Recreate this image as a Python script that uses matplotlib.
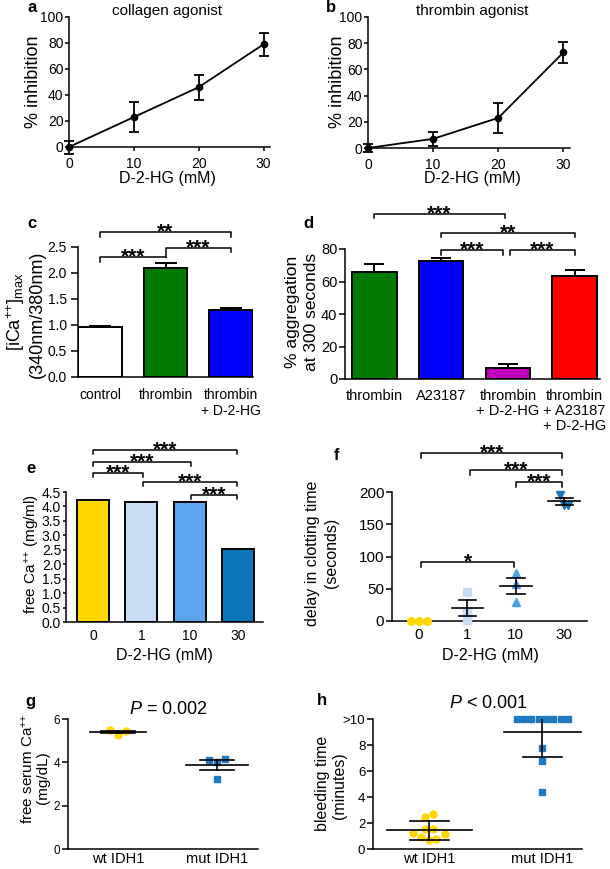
import numpy as np
import matplotlib
matplotlib.use("Agg")
import matplotlib.pyplot as plt

plt.rcParams['font.family'] = 'Liberation Sans'
plt.rcParams['mathtext.fontset'] = 'custom'
plt.rcParams['mathtext.rm'] = 'Liberation Sans'
plt.rcParams['mathtext.it'] = 'Liberation Sans:italic'
plt.rcParams['mathtext.bf'] = 'Liberation Sans:bold'

W, H = 610, 869

# a, b : % inhibition vs D-2-HG
dose = [0, 10, 20, 30]
coll_inh = [0, 23, 46, 79]
coll_err = [5, 11.5, 9.5, 9]
thr_inh = [0, 7, 23, 73]
thr_err = [3, 5.5, 11.5, 8]

# c : [iCa++]max
c_labels = ['control', 'thrombin', 'thrombin\n+ D-2-HG']
c_vals = [0.97, 2.10, 1.29]
c_err = [0.02, 0.10, 0.03]
c_colors = ['white', '#007a00', '#0000ff']

# d : % aggregation
d_labels = ['thrombin', 'A23187', 'thrombin\n+ D-2-HG', 'thrombin\n+ A23187\n+ D-2-HG']
d_vals = [66, 72.8, 6.6, 63.4]
d_err = [4.6, 1.9, 2.6, 3.6]
d_colors = ['#007a00', '#0000ff', '#c000c0', '#ff0000']

# e : free Ca++
e_labels = ['0', '1', '10', '30']
e_vals = [4.23, 4.15, 4.14, 2.52]
e_colors = ['#ffd700', '#c8dcf5', '#5ca4ee', '#0c76bd']

# f : delay in clotting time
f_labels = ['0', '1', '10', '30']
f_pts = [[0, 0, 0], [45, 14, 2], [74, 58, 30], [196, 180, 180]]
f_colors = ['#ffd700', '#c8dcf5', '#4a9fea', '#1874b9']
f_markers = ['o', 's', '^', 'v']

# g : free serum Ca++
g_labels = ['wt IDH1', 'mut IDH1']
g_wt = [5.48, 5.28, 5.43]
g_mut = [4.12, 4.15, 3.23, 4.0]

# h : bleeding time
h_labels = ['wt IDH1', 'mut IDH1']
h_wt = [1.2, 0.9, 0.69, 0.77, 1.13, 1.54, 1.54, 2.49, 2.67]
h_mut = [10, 10, 10, 10, 10, 10, 10, 10, 7.75, 6.75, 4.35]

yellow = '#ffd700'
blue = '#1f7ac4'
PP = '$^{{+}{+}}$'

fig = plt.figure(figsize=(W / 100, H / 100), dpi=100)


def px_axes(l, t, r, b):
    return fig.add_axes([l / W, 1 - b / H, (r - l) / W, (b - t) / H])


def ftext(x, y, s, **kw):
    fig.text(x / W, 1 - y / H, s, **kw)


def style(ax, fs=10, xlen=0, ylen=3, xpad=3, ypad=1.5):
    for s in ['top', 'right']:
        ax.spines[s].set_visible(False)
    for s in ['left', 'bottom']:
        ax.spines[s].set_linewidth(1.1)
    ax.tick_params(axis='y', length=ylen, width=1.1, pad=ypad, labelsize=fs)
    ax.tick_params(axis='x', length=xlen, width=1.1, pad=xpad, labelsize=fs)


def bracket(ax, x1, x2, y, text, hl, hr=None, fs=15):
    if hr is None:
        hr = hl
    ax.plot([x1, x1, x2, x2], [y - hl, y, y, y - hr], color='k', lw=1.1, clip_on=False)
    ax.annotate(text, xy=((x1 + x2) / 2, y), xytext=(0, -4), textcoords='offset points',
                ha='center', va='baseline', fontsize=fs, fontweight='bold',
                annotation_clip=False)


def mean_err(ax, x, m, e, wm, wc, lw=1.2):
    kw = dict(color='k', lw=lw, zorder=5)
    ax.plot([x - wm, x + wm], [m, m], **kw)
    ax.plot([x, x], [m - e, m + e], **kw)
    ax.plot([x - wc, x + wc], [m + e, m + e], **kw)
    ax.plot([x - wc, x + wc], [m - e, m - e], **kw)


# ---- a and b
for box, vals, errs, title, tx in [((69, 17, 270, 147), coll_inh, coll_err, 'collagen agonist', 167),
                                   ((368, 17, 570, 148), thr_inh, thr_err, 'thrombin agonist', 472)]:
    ax = px_axes(*box)
    ax.errorbar(dose, vals, yerr=errs, color='k', marker='o', ms=4.5, lw=1.3,
                elinewidth=1.3, capsize=3.5, capthick=1.3, clip_on=False)
    ax.set_xlim(0, 31)
    ax.set_ylim(0, 100)
    ax.set_xticks(dose)
    ax.set_yticks([0, 20, 40, 60, 80, 100])
    style(ax, fs=10, xlen=3, ylen=3, xpad=4, ypad=1)
    ftext(tx, 15, title, ha='center', va='baseline', fontsize=11)
    ftext(tx, 183, 'D-2-HG (mM)', ha='center', va='baseline', fontsize=11.5)
ftext(33, 82, '% inhibition', rotation=90, ha='center', va='center', fontsize=13)
ftext(337, 82, '% inhibition', rotation=90, ha='center', va='center', fontsize=13)
ftext(32, 12, 'a', fontweight='bold', ha='center', va='baseline', fontsize=12)
ftext(331, 12, 'b', fontweight='bold', ha='center', va='baseline', fontsize=12)

# ---- c
ax = px_axes(78, 247, 253, 377)
xc = np.arange(len(c_vals))
ax.bar(xc, c_vals, width=0.67, color=c_colors, edgecolor='k', linewidth=1.4)
ax.errorbar(xc, c_vals, yerr=[np.zeros(len(c_err)), c_err], fmt='none', ecolor='k',
            elinewidth=1.4, capsize=8, capthick=1.4)
ax.set_xlim(-0.34, 2.34)
ax.set_ylim(0, 2.5)
ax.set_yticks(np.arange(0, 2.51, 0.5))
ax.set_yticklabels(['%.1f' % v for v in np.arange(0, 2.51, 0.5)])
ax.set_xticks(xc)
ax.set_xticklabels(c_labels)
style(ax, fs=10, xlen=0, ylen=5, xpad=8, ypad=3)
bracket(ax, 0, 2, 2.79, '**', 0.1)
bracket(ax, 0, 1, 2.31, '***', 0.1, 0)
bracket(ax, 1, 2, 2.48, '***', 0.17, 0.08)
ftext(16, 312, '[iCa' + PP + ']$_{\\rm max}$', rotation=90, ha='center', va='center', fontsize=13)
ftext(37, 314, '(340nm/380nm)', rotation=90, ha='center', va='center', fontsize=13)
ftext(32, 228, 'c', fontweight='bold', ha='center', va='baseline', fontsize=12)

# ---- d
ax = px_axes(345, 249, 600, 379)
xd = np.arange(len(d_vals))
ax.bar(xd, d_vals, width=0.67, color=d_colors, edgecolor='k', linewidth=1.4)
ax.errorbar(xd, d_vals, yerr=[np.zeros(len(d_err)), d_err], fmt='none', ecolor='k',
            elinewidth=1.4, capsize=7.5, capthick=1.4)
ax.set_xlim(-0.44, 3.38)
ax.set_ylim(0, 80)
ax.set_yticks([0, 20, 40, 60, 80])
ax.set_xticks(xd)
ax.set_xticklabels(d_labels, linespacing=1.1)
style(ax, fs=10.5, xlen=0, ylen=4, xpad=7, ypad=1.5)
bracket(ax, 0, 1.95, 101.5, '***', 2.5)
bracket(ax, 1, 3, 89.8, '**', 2.5)
bracket(ax, 1, 1.93, 79.4, '***', 3)
bracket(ax, 2.03, 3, 79.4, '***', 3)
ftext(292, 312, '% aggregation', rotation=90, ha='center', va='center', fontsize=12.5)
ftext(311, 312, 'at 300 seconds', rotation=90, ha='center', va='center', fontsize=12.5)
ftext(308, 228, 'd', fontweight='bold', ha='center', va='baseline', fontsize=12)

# ---- e
ax = px_axes(66, 492, 263, 622)
xe = np.arange(len(e_vals))
ax.bar(xe, e_vals, width=0.66, color=e_colors, edgecolor='k', linewidth=1.4)
ax.set_xlim(-0.56, 3.52)
ax.set_ylim(0, 4.5)
ax.set_yticks(np.arange(0, 4.51, 0.5))
ax.set_yticklabels(['%.1f' % v for v in np.arange(0, 4.51, 0.5)])
ax.set_xticks(xe)
ax.set_xticklabels(e_labels)
style(ax, fs=10, xlen=0, ylen=2.5, xpad=5, ypad=1)
bracket(ax, 0, 2.98, 5.95, '***', 0.15)
bracket(ax, 0, 2.03, 5.55, '***', 0.14)
bracket(ax, 0, 1.03, 5.17, '***', 0.14)
bracket(ax, 1.03, 2.98, 4.86, '***', 0.14)
bracket(ax, 2.03, 2.98, 4.41, '***', 0.14)
ftext(32, 554, 'free Ca' + PP + ' (mg/ml)', rotation=90, ha='center', va='center', fontsize=11)
ftext(164, 660, 'D-2-HG (mM)', ha='center', va='baseline', fontsize=11.5)
ftext(31, 473, 'e', fontweight='bold', ha='center', va='baseline', fontsize=12)

# ---- f
ax = px_axes(392, 492, 587, 621)
offs = [[-0.17, 0, 0.17], [0, 0, 0], [0, 0, 0], [-0.085, 0, 0.085]]
for i, pts in enumerate(f_pts):
    ax.plot(np.array(offs[i]) + i, pts, linestyle='none', marker=f_markers[i], ms=5.5,
            color=f_colors[i], clip_on=False, zorder=4)
    m = np.mean(pts)
    se = np.std(pts, ddof=1) / np.sqrt(len(pts))
    if m > 0:
        mean_err(ax, i, m, se, 0.33, 0.18)
ax.set_xlim(-0.56, 3.47)
ax.set_ylim(0, 200)
ax.set_yticks([0, 50, 100, 150, 200])
ax.set_xticks(range(4))
ax.set_xticklabels(f_labels)
style(ax, fs=11, xlen=0, ylen=4, xpad=5, ypad=1.5)
bracket(ax, 0.04, 2.96, 260, '***', 7.7)
bracket(ax, 1.06, 2.96, 233.6, '***', 7.7)
bracket(ax, 2.0, 2.96, 215, '***', 7.7)
bracket(ax, 0.04, 1.97, 91.3, '*', 7.7)
ftext(313, 553, 'delay in clotting time', rotation=90, ha='center', va='center', fontsize=11.5)
ftext(331, 553, '(seconds)', rotation=90, ha='center', va='center', fontsize=11.5)
ftext(490, 660, 'D-2-HG (mM)', ha='center', va='baseline', fontsize=11.5)
ftext(336, 460, 'f', fontweight='bold', ha='center', va='baseline', fontsize=12)

# ---- g
ax = px_axes(68, 719, 258, 849)
ax.plot(np.array([-0.08, 0, 0.08]), g_wt, 'o', ms=5, color=yellow, zorder=4)
ax.plot(1 + np.array([-0.08, 0.08, 0, 0]), g_mut, 's', ms=5, color=blue, zorder=4)
mean_err(ax, 0, np.mean(g_wt), np.std(g_wt, ddof=1) / np.sqrt(len(g_wt)), 0.28, 0.17)
mean_err(ax, 1, np.mean(g_mut), np.std(g_mut, ddof=1) / np.sqrt(len(g_mut)), 0.31, 0.17)
ax.set_xlim(-0.5, 1.41)
ax.set_ylim(0, 6)
ax.set_yticks([0, 2, 4, 6])
ax.set_xticks([0, 1])
ax.set_xticklabels(g_labels)
style(ax, fs=8.5, xlen=0, ylen=4, xpad=2, ypad=1.5)
ax.tick_params(axis='x', labelsize=10.5)
ftext(168, 714, '$P$ = 0.002', ha='center', va='baseline', fontsize=13)
ftext(28, 769, 'free serum Ca' + PP, rotation=90, ha='center', va='center', fontsize=11)
ftext(43, 778, '(mg/dL)', rotation=90, ha='center', va='center', fontsize=11)
ftext(30, 706, 'g', fontweight='bold', ha='center', va='baseline', fontsize=12)

# ---- h
ax = px_axes(373, 719, 582, 849)
wt_off = [-0.148, -0.074, -0.006, 0.059, 0.133, -0.044, 0.03, -0.044, 0.03]
mut_off = list((np.arange(8) - 3.5) * 0.065) + [0, 0, 0]
ax.plot(np.array(wt_off), h_wt, 'o', ms=5, color=yellow, zorder=4, clip_on=False)
ax.plot(1 + np.array(mut_off), h_mut, 's', ms=4.4, color=blue, zorder=4, clip_on=False)
mean_err(ax, 0, np.mean(h_wt), np.std(h_wt, ddof=1), 0.38, 0.17)
mean_err(ax, 1, np.mean(h_mut), np.std(h_mut, ddof=1), 0.34, 0.17)
ax.set_xlim(-0.5, 1.35)
ax.set_ylim(0, 10)
ax.set_yticks([0, 2, 4, 6, 8, 10])
ax.set_yticklabels(['0', '2', '4', '6', '8', '>10'])
ax.set_xticks([0, 1])
ax.set_xticklabels(h_labels)
style(ax, fs=9.5, xlen=0, ylen=4, xpad=2, ypad=1.5)
ax.tick_params(axis='x', labelsize=10.5)
ftext(488, 708, '$P$ < 0.001', ha='center', va='baseline', fontsize=13)
ftext(323, 783, 'bleeding time', rotation=90, ha='center', va='center', fontsize=11.5)
ftext(340, 786, '(minutes)', rotation=90, ha='center', va='center', fontsize=11.5)
ftext(322, 705, 'h', fontweight='bold', ha='center', va='baseline', fontsize=12)

fig.savefig('out.png', dpi=100)
